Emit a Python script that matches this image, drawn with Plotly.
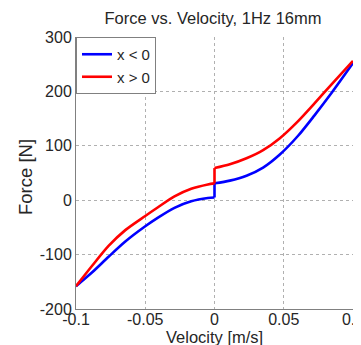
import plotly.graph_objects as go

# Velocity [m/s] and Force [N]
vel_neg = [-0.1, -0.0885, -0.0765, -0.0644, -0.05, -0.0408, -0.0289, -0.0168, -0.0048, 0.0,
           0.0, 0.0111, 0.0231, 0.0351, 0.0472, 0.0602, 0.0722, 0.0842, 0.1]
force_neg = [-158, -133, -104, -76, -48, -32, -14, -2, 4, 5,
             31, 36, 45, 60, 84, 118, 156, 196, 252]

vel_pos = [-0.1, -0.0885, -0.0765, -0.0644, -0.05, -0.0408, -0.0289, -0.0168, -0.0048, 0.0,
           0.0, 0.0111, 0.0231, 0.0351, 0.0472, 0.0602, 0.0722, 0.0842, 0.1]
force_pos = [-158, -121, -84, -55, -29, -13, 7, 21, 29, 31,
             59, 66, 77, 92, 114, 145, 178, 212, 256]

series_names = ["x < 0", "x > 0"]
series_colors = ["#0000FF", "#FF0000"]

x_ticks = [-0.1, -0.05, 0, 0.05, 0.1]
x_ticktext = ["-0.1", "-0.05", "0", "0.05", "0.1"]
y_ticks = [-200, -100, 0, 100, 200, 300]
y_ticktext = ["-200", "-100", "0", "100", "200", "300"]

FONT = "Liberation Sans, Arial, Helvetica, sans-serif"
TXT = "#262626"

# page body has an 8px margin: the figure is laid out to fill the rest of the 361x345 window
W, H = 353, 337
ML, MR, MT, MB = 68, 8, 29, 36

fig = go.Figure()
for vx, fy, name, col in [(vel_neg, force_neg, series_names[0], series_colors[0]),
                          (vel_pos, force_pos, series_names[1], series_colors[1])]:
    n_left = vx.index(0.0) + 1          # end of the v<0 branch
    # left branch (smooth)
    fig.add_trace(go.Scatter(x=vx[:n_left], y=fy[:n_left], mode="lines", name=name,
                             legendgroup=name, showlegend=True,
                             line=dict(color=col, width=2.6, shape="spline", smoothing=0.8)))
    # jump at v = 0
    fig.add_trace(go.Scatter(x=vx[n_left - 1:n_left + 1], y=fy[n_left - 1:n_left + 1],
                             mode="lines", name=name, legendgroup=name, showlegend=False,
                             line=dict(color=col, width=2.6)))
    # right branch (smooth)
    fig.add_trace(go.Scatter(x=vx[n_left:], y=fy[n_left:], mode="lines", name=name,
                             legendgroup=name, showlegend=False,
                             line=dict(color=col, width=2.6, shape="spline", smoothing=0.8)))

axis_common = dict(
    showgrid=True, gridcolor="#b0b0b0", griddash="dot", gridwidth=1,
    zeroline=False, showline=True, linecolor="#808080", linewidth=1,
    ticks="", tickfont=dict(family=FONT, size=16, color=TXT),
    automargin=False,
)

fig.update_layout(
    width=W, height=H,
    margin=dict(l=ML, r=MR, t=MT, b=MB, autoexpand=False),
    paper_bgcolor="white", plot_bgcolor="white",
    title=dict(text="Force vs. Velocity, 1Hz 16mm", x=205 / W, xanchor="center",
               xref="container", y=1 - 10.5 / H, yanchor="middle", yref="container",
               font=dict(family=FONT, size=16.5, color=TXT)),
    legend=dict(x=0, y=1, xanchor="left", yanchor="top",
                bgcolor="white", bordercolor="#808080", borderwidth=1,
                font=dict(family=FONT, size=15, color=TXT),
                tracegroupgap=0, itemwidth=30),
    showlegend=True,
    annotations=[
        dict(text="Velocity [m/s]", xref="paper", yref="paper", x=0.5, y=0,
             xanchor="center", yanchor="middle", yshift=-28, showarrow=False,
             font=dict(family=FONT, size=16.5, color=TXT)),
        dict(text="Force [N]", xref="paper", yref="paper", x=0, y=0.5,
             xanchor="center", yanchor="middle", xshift=-51, yshift=-4,
             textangle=-90, showarrow=False,
             font=dict(family=FONT, size=18.5, color=TXT)),
    ],
)
fig.update_xaxes(range=[-0.1, 0.1], tickvals=x_ticks, ticktext=x_ticktext,
                 ticklabelstandoff=-4, ticklabeloverflow="allow", **axis_common)
fig.update_yaxes(range=[-200, 300], tickvals=y_ticks, ticktext=y_ticktext,
                 ticklabelstandoff=0, **axis_common)

fig.write_html("out.html")
